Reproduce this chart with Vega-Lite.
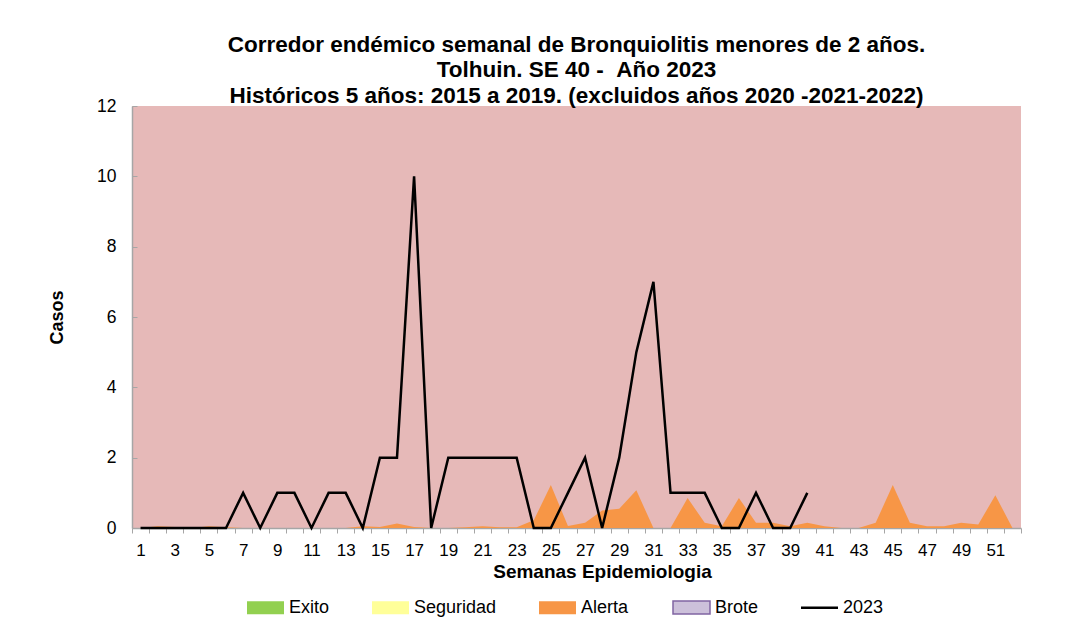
{
  "$schema": "https://vega.github.io/schema/vega-lite/v6.json",
  "width": 889,
  "height": 422,
  "autosize": {"type": "none"},
  "padding": {"left": 132, "top": 106, "right": 53, "bottom": 113},
  "background": "white",
  "title": {
    "text": ["Corredor endémico semanal de Bronquiolitis menores de 2 años.", "Tolhuin. SE 40 - \u00a0Año 2023", "Históricos 5 años: 2015 a 2019. (excluidos años 2020 -2021-2022)"],
    "font": "Liberation Sans",
    "fontSize": 22.5,
    "fontWeight": "bold",
    "color": "black",
    "anchor": "middle",
    "lineHeight": 25.5,
    "offset": -10
  },
  "config": {
    "view": {"fill": "#E6B9B8", "stroke": null},
    "axis": {"labelFont": "Liberation Sans", "titleFont": "Liberation Sans", "labelColor": "black", "titleColor": "black", "domainColor": "#A6A6A6", "tickColor": "#A6A6A6", "domainWidth": 1.5, "tickWidth": 1, "grid": false}
  },
  "data": {
    "values": [
      {"semana": 1, "alerta": 0, "casos": 0},
      {"semana": 2, "alerta": 0.05, "casos": 0},
      {"semana": 3, "alerta": 0.03, "casos": 0},
      {"semana": 4, "alerta": 0, "casos": 0},
      {"semana": 5, "alerta": 0.05, "casos": 0},
      {"semana": 6, "alerta": 0.02, "casos": 0},
      {"semana": 7, "alerta": 0, "casos": 1},
      {"semana": 8, "alerta": 0, "casos": 0},
      {"semana": 9, "alerta": 0, "casos": 1},
      {"semana": 10, "alerta": 0, "casos": 1},
      {"semana": 11, "alerta": 0, "casos": 0},
      {"semana": 12, "alerta": 0, "casos": 1},
      {"semana": 13, "alerta": 0, "casos": 1},
      {"semana": 14, "alerta": 0.05, "casos": 0},
      {"semana": 15, "alerta": 0.03, "casos": 2},
      {"semana": 16, "alerta": 0.13, "casos": 2},
      {"semana": 17, "alerta": 0.03, "casos": 10},
      {"semana": 18, "alerta": 0, "casos": 0},
      {"semana": 19, "alerta": 0, "casos": 2},
      {"semana": 20, "alerta": 0.02, "casos": 2},
      {"semana": 21, "alerta": 0.05, "casos": 2},
      {"semana": 22, "alerta": 0.02, "casos": 2},
      {"semana": 23, "alerta": 0.02, "casos": 2},
      {"semana": 24, "alerta": 0.22, "casos": 0},
      {"semana": 25, "alerta": 1.22, "casos": 0},
      {"semana": 26, "alerta": 0.06, "casos": 1},
      {"semana": 27, "alerta": 0.15, "casos": 2},
      {"semana": 28, "alerta": 0.5, "casos": 0},
      {"semana": 29, "alerta": 0.55, "casos": 2},
      {"semana": 30, "alerta": 1.07, "casos": 5},
      {"semana": 31, "alerta": 0, "casos": 7},
      {"semana": 32, "alerta": 0, "casos": 1},
      {"semana": 33, "alerta": 0.85, "casos": 1},
      {"semana": 34, "alerta": 0.15, "casos": 1},
      {"semana": 35, "alerta": 0.05, "casos": 0},
      {"semana": 36, "alerta": 0.85, "casos": 0},
      {"semana": 37, "alerta": 0.15, "casos": 1},
      {"semana": 38, "alerta": 0.15, "casos": 0},
      {"semana": 39, "alerta": 0.05, "casos": 0},
      {"semana": 40, "alerta": 0.15, "casos": 1},
      {"semana": 41, "alerta": 0.05, "casos": null},
      {"semana": 42, "alerta": 0, "casos": null},
      {"semana": 43, "alerta": 0, "casos": null},
      {"semana": 44, "alerta": 0.15, "casos": null},
      {"semana": 45, "alerta": 1.22, "casos": null},
      {"semana": 46, "alerta": 0.15, "casos": null},
      {"semana": 47, "alerta": 0.05, "casos": null},
      {"semana": 48, "alerta": 0.05, "casos": null},
      {"semana": 49, "alerta": 0.15, "casos": null},
      {"semana": 50, "alerta": 0.1, "casos": null},
      {"semana": 51, "alerta": 0.93, "casos": null},
      {"semana": 52, "alerta": 0, "casos": null}
    ]
  },
  "encoding": {
    "x": {
      "field": "semana",
      "type": "ordinal",
      "bandPosition": 0.5,
      "scale": {"type": "band", "paddingInner": 0, "paddingOuter": 0},
      "axis": {
        "title": "Semanas Epidemiologia",
        "titleFontSize": 19,
        "titleFontWeight": "bold",
        "titlePadding": 4,
        "titleX": 470,
        "labelFontSize": 17,
        "labelAngle": 0,
        "labelPadding": 9,
        "tickSize": 5,
        "tickBand": "extent",
        "labelExpr": "datum.value % 2 == 1 ? datum.label : ''"
      }
    }
  },
  "layer": [
    {
      "mark": {"type": "area", "interpolate": "linear"},
      "encoding": {
        "y": {
          "field": "alerta",
          "type": "quantitative",
          "scale": {"domain": [0, 12], "nice": false},
          "axis": {
            "title": "Casos",
            "titleFontSize": 18,
            "titleFontWeight": "bold",
            "titlePadding": 30,
            "labelFontSize": 17.5,
            "values": [0, 2, 4, 6, 8, 10, 12],
            "tickSize": -5,
            "labelPadding": 21
          }
        },
        "color": {
          "datum": "Alerta",
          "type": "nominal",
          "scale": {
            "domain": ["Exito", "Seguridad", "Alerta", "Brote", "2023"],
            "range": ["#92D050", "#FFFF99", "#F79646", "#CCC0DA", "#000000"]
          },
          "legend": {
            "orient": "none",
            "legendX": 114,
            "legendY": 482,
            "direction": "horizontal",
            "title": null,
            "labelFont": "Liberation Sans",
            "labelFontSize": 18,
            "labelColor": "black",
            "symbolSize": 1369,
            "symbolOpacity": 1,
            "columnPadding": 41,
            "labelOffset": 4,
            "encode": {
              "symbols": {
                "update": {
                  "shape": {"signal": "datum.label === '2023' ? 'M-1,-0.07H1V0.07H-1Z' : 'M-1,-0.35H1V0.35H-1Z'"},
                  "stroke": {"signal": "datum.label === 'Brote' ? '#8064A2' : null"},
                  "strokeWidth": {"value": 1.5}
                }
              }
            }
          }
        }
      }
    },
    {
      "mark": {"type": "line", "color": "black", "strokeWidth": 2.5, "interpolate": "linear"},
      "encoding": {
        "y": {"field": "casos", "type": "quantitative"}
      }
    }
  ]
}
